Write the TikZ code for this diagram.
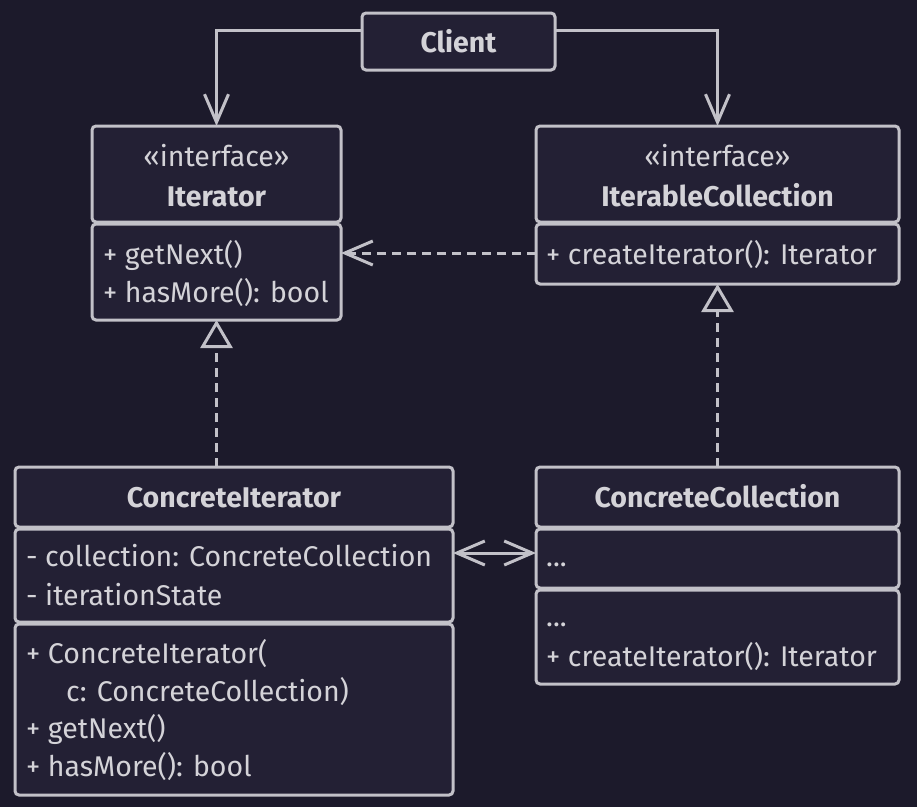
\documentclass[tikz,border=0pt]{standalone}
\usepackage{fontspec}
\setmainfont{Fira Sans}
\usetikzlibrary{arrows.meta}
\definecolor{bgc}{HTML}{1C1A2B}
\definecolor{boxc}{HTML}{232034}
\definecolor{linec}{HTML}{C2C1C8}
\definecolor{textc}{HTML}{D4D3D8}
\tikzset{
  comp/.style={draw=linec, line width=3pt, fill=boxc, rounded corners=4pt},
  anchorbox/.style={draw=none, inner sep=0pt, outer sep=0pt, anchor=north west},
  txt/.style={text=textc, inner sep=0pt, anchor=base west, font=\fontsize{28.5}{33}\selectfont},
  hdr/.style={text=textc, inner sep=0pt, anchor=base, font=\fontsize{28.5}{33}\selectfont\bfseries},
  ster/.style={text=textc, inner sep=0pt, anchor=base, font=\fontsize{28.5}{33}\selectfont},
  conn/.style={draw=linec, line width=3pt},
  dsh/.style={conn, dash pattern=on 9pt off 6pt},
  vee/.style={-{Straight Barb[length=28pt,width=24pt,line width=3pt]}},
  dvee/.style={{Straight Barb[length=28pt,width=24pt,line width=3pt]}-{Straight Barb[length=28pt,width=24pt,line width=3pt]}},
  tri/.style={-{Triangle[open,length=28pt,width=32pt,line width=3pt,fill=bgc]}}
}
\begin{document}
\begin{tikzpicture}[x=1pt,y=-1pt]
\fill[bgc] (0,0) rectangle (917,807);
\useasboundingbox (0,0) rectangle (917,807);

% anchor nodes for classes
\node[anchorbox, minimum width=193pt, minimum height=57pt] (client) at (362,13) {};
\node[anchorbox, minimum width=249pt, minimum height=194pt] (iter) at (92,126) {};
\node[anchorbox, minimum width=363pt, minimum height=158pt] (icol) at (536,126) {};
\node[anchorbox, minimum width=438pt, minimum height=328pt] (citer) at (15,467) {};
\node[anchorbox, minimum width=363pt, minimum height=217pt] (ccol) at (536,467) {};

% Client
\draw[comp] (362,13) rectangle (555,70);
\node[hdr] (clientT) at (458.5,52) {Client};

% Iterator
\draw[comp] (92,126) rectangle (341,222);
\draw[comp] (92,224) rectangle (341,320);
\node[ster] (iterS) at (216.5,166) {«interface»};
\node[hdr] (iterT) at (216.5,206) {Iterator};
\node[txt] (iterM1) at (103,264) {+ getNext()};
\node[txt] (iterM2) at (103,302) {+ hasMore(): bool};

% IterableCollection
\draw[comp] (536,126) rectangle (899,222);
\draw[comp] (536,224) rectangle (899,284);
\node[ster] (icolS) at (717.5,166) {«interface»};
\node[hdr] (icolT) at (717.5,206) {IterableCollection};
\node[txt] (icolM1) at (546,264) {+ createIterator(): Iterator};

% ConcreteIterator
\draw[comp] (15,467) rectangle (453,527);
\draw[comp] (15,529) rectangle (453,622);
\draw[comp] (15,624) rectangle (453,795);
\node[hdr] (citerT) at (234,507) {ConcreteIterator};
\node[txt] (citerF1) at (26,566) {- collection: ConcreteCollection};
\node[txt] (citerF2) at (26,605) {- iterationState};
\node[txt] (citerM1) at (26,663) {+ ConcreteIterator(};
\node[txt] (citerM2) at (66,701) {c: ConcreteCollection)};
\node[txt] (citerM3) at (26,738) {+ getNext()};
\node[txt] (citerM4) at (26,776) {+ hasMore(): bool};

% ConcreteCollection
\draw[comp] (536,467) rectangle (899,527);
\draw[comp] (536,529) rectangle (899,588);
\draw[comp] (536,590) rectangle (899,684);
\node[hdr] (ccolT) at (717.5,507) {ConcreteCollection};
\node[txt] (ccolF1) at (546,566) {...};
\node[txt] (ccolM1) at (546,626) {...};
\node[txt] (ccolM2) at (546,666) {+ createIterator(): Iterator};

% connectors
\draw[conn, vee] (client.west |- 0,30) -| (iter.north);
\draw[conn, vee] (client.east |- 0,30) -| (icol.north);
\draw[dsh, vee] (icol.west |- 0,253) -- (iter.east |- 0,253);
\draw[dsh, tri] (citer.north -| iter.south) -- (iter.south);
\draw[dsh, tri] (ccol.north) -- (icol.south);
\draw[conn, dvee] (citer.east |- 0,553) -- (ccol.west |- 0,553);
\end{tikzpicture}
\end{document}
